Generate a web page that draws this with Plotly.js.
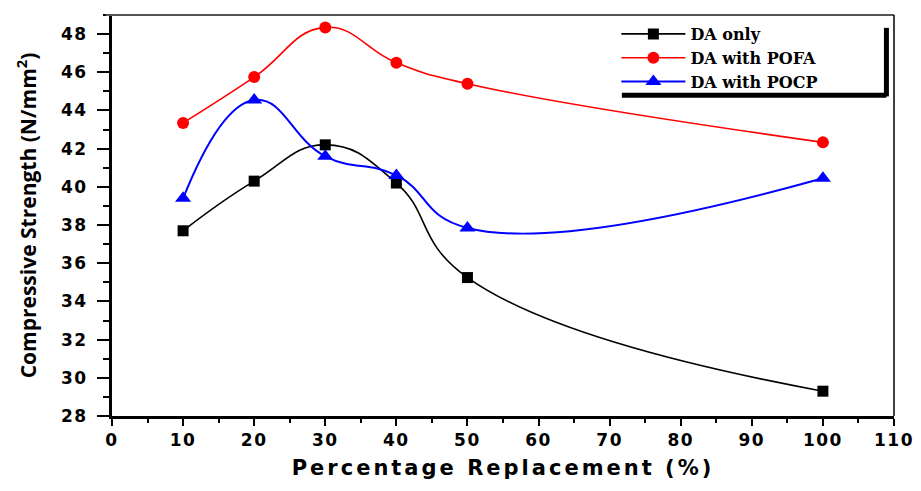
<!DOCTYPE html>
<html>
<head>
<meta charset="utf-8">
<script src="https://cdn.plot.ly/plotly-3.0.1.min.js"></script>
<style>
html,body{margin:0;padding:0;background:#fff;}
#chart{width:921px;height:491px;}
#chart .xtitle{letter-spacing:3px;}
#chart .xtick text, #chart .ytick text{letter-spacing:1.5px;}
</style>
</head>
<body>
<div id="chart"></div>
<script>
const replacement = [10, 20, 30, 40, 50, 100];
const daOnly   = [37.7, 40.3, 42.2, 40.2, 35.25, 29.3];
const daPOFA   = [43.35, 45.75, 48.35, 46.5, 45.4, 42.33];
const daPOCP   = [39.4, 44.55, 41.6, 40.6, 37.85, 40.45];
const seriesNames = ['DA only', 'DA with POFA', 'DA with POCP'];
const xTicks = [0, 10, 20, 30, 40, 50, 60, 70, 80, 90, 100, 110];
const yTicks = [28, 30, 32, 34, 36, 38, 40, 42, 44, 46, 48];

const traces = [
  {x: replacement, y: daOnly, name: seriesNames[0], mode: 'lines+markers',
   line: {color: '#000000', width: 1.6, shape: 'spline', smoothing: 1.3},
   marker: {symbol: 'square', size: 11, color: '#000000'}},
  {x: replacement, y: daPOFA, name: seriesNames[1], mode: 'lines+markers',
   line: {color: '#ff0000', width: 1.6, shape: 'spline', smoothing: 1.3},
   marker: {symbol: 'circle', size: 12, color: '#ff0000'}},
  {x: replacement, y: daPOCP, name: seriesNames[2], mode: 'lines+markers',
   line: {color: '#0000ff', width: 2, shape: 'spline', smoothing: 1.3},
   marker: {symbol: 'triangle-up', size: 14, color: '#0000ff'}}
];

const layout = {
  width: 921, height: 491,
  margin: {l: 112, r: 27, t: 15, b: 75},
  paper_bgcolor: '#ffffff', plot_bgcolor: '#ffffff',
  showlegend: true,
  legend: {
    x: 0.645, y: 0.995, xanchor: 'left', yanchor: 'top',
    bgcolor: 'rgba(255,255,255,0)', borderwidth: 0,
    font: {family: 'DejaVu Serif', size: 16, weight: 'bold', color: '#000'},
    itemwidth: 64, tracegroupgap: 0
  },
  xaxis: {
    range: [0, 110], tickvals: xTicks, ticktext: xTicks.map(String),
    showgrid: false, zeroline: false,
    showline: true, linecolor: '#000', linewidth: 3,
    ticks: 'outside', ticklen: 7, tickwidth: 2, tickcolor: '#000',
    minor: {dtick: 5, ticks: 'outside', ticklen: 4, tickwidth: 2, tickcolor: '#000'},
    tickfont: {family: 'DejaVu Sans', size: 17, weight: 'bold', color: '#000'},
    title: {text: 'Percentage Replacement (%)', standoff: 11,
            font: {family: 'DejaVu Sans', size: 21, weight: 'bold', color: '#000'}}
  },
  yaxis: {
    range: [28, 49], tickvals: yTicks, ticktext: yTicks.map(String),
    showgrid: false, zeroline: false, automargin: true,
    showline: true, linecolor: '#000', linewidth: 3,
    ticks: 'outside', ticklen: 12, tickwidth: 2, tickcolor: '#000',
    minor: {dtick: 1, ticks: 'outside', ticklen: 6, tickwidth: 2, tickcolor: '#000'},
    tickfont: {family: 'DejaVu Sans', size: 17, weight: 'bold', color: '#000'},
    ticklabelstandoff: 6,
    title: {text: 'Compressive Strength (N/mm<sup>2</sup>)', standoff: 22,
            font: {family: 'Open Sans', size: 21, weight: 'bold', color: '#000'}}
  },
  shapes: [
    {type: 'line', xref: 'paper', yref: 'paper', x0: -0.008, x1: 1, y0: 1, y1: 1,
     line: {color: '#555', width: 2}},
    {type: 'line', xref: 'paper', yref: 'paper', x0: 1, x1: 1, y0: 0, y1: 1,
     line: {color: '#000', width: 1.5}},
    {type: 'line', xref: 'paper', yref: 'paper', x0: 0.9903, x1: 0.9903, y0: 0.797, y1: 0.968,
     line: {color: '#000', width: 5}},
    {type: 'line', xref: 'paper', yref: 'paper', x0: 0.652, x1: 0.9903, y0: 0.8, y1: 0.8,
     line: {color: '#000', width: 5}}
  ]
};

Plotly.newPlot('chart', traces, layout, {displayModeBar: false, staticPlot: true});
</script>
</body>
</html>
